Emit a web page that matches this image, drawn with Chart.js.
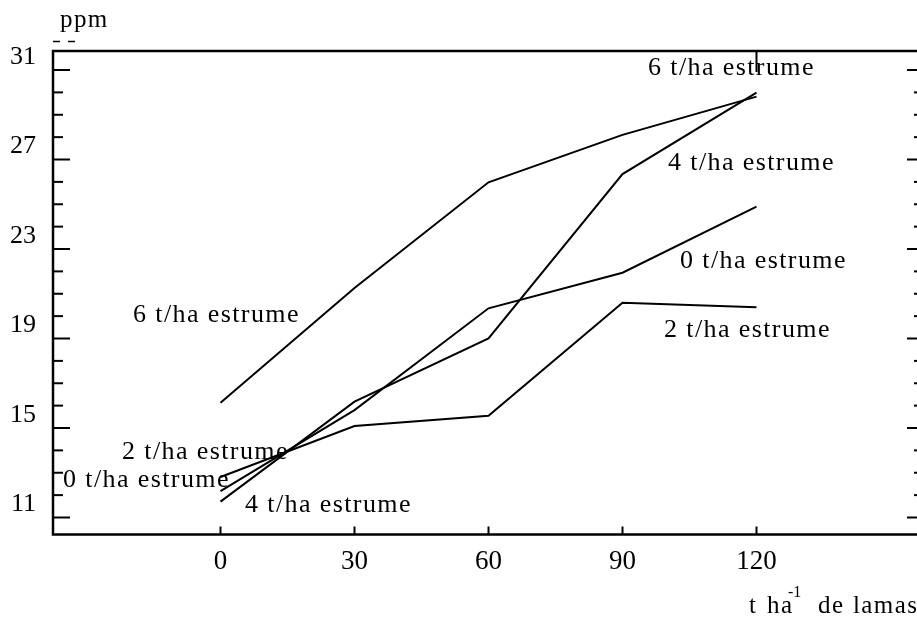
<!DOCTYPE html>
<html>
<head>
<meta charset="utf-8">
<script src="https://cdn.jsdelivr.net/npm/chart.js@4.4.1/dist/chart.umd.min.js"></script>
<style>
html, body { margin: 0; padding: 0; background: #fff; overflow: hidden; }
#wrap { position: absolute; left: 0; top: 0; width: 930px; height: 619px; }
</style>
</head>
<body>
<div id="wrap"><canvas id="chart" width="930" height="619"></canvas></div>
<script>
// sludge doses (t/ha) on the x axis
const doses = [0, 30, 60, 90, 120];

// ppm, one array per manure level
const manure0 = [12.18, 15.80, 20.35, 21.94, 24.89];
const manure2 = [12.81, 15.09, 15.55, 20.60, 20.40];
const manure4 = [11.71, 16.18, 19.00, 26.35, 29.99];
const manure6 = [16.13, 21.26, 25.98, 28.10, 29.81];

// y axis: labelled ticks and the small in-between ticks
const yLabels = [11, 15, 19, 23, 27, 31];
const yMinor = [11, 12, 13, 14, 15, 16, 17, 18, 19, 20, 21, 22, 23, 24, 25, 26, 27, 28, 29, 30, 31];

const serif = "'Liberation Serif', 'Times New Roman', serif";

// text labels placed next to the lines (pixel position of the text start / baseline)
const notes = [
    { text: '6 t/ha estrume', x: 648, y: 75 },
    { text: '4 t/ha estrume', x: 668, y: 170 },
    { text: '0 t/ha estrume', x: 680, y: 268 },
    { text: '2 t/ha estrume', x: 664, y: 337 },
    { text: '6 t/ha estrume', x: 133, y: 322 },
    { text: '2 t/ha estrume', x: 122, y: 459 },
    { text: '0 t/ha estrume', x: 63, y: 487 },
    { text: '4 t/ha estrume', x: 245, y: 512 }
];

function toPoints(values) {
    return doses.map((d, i) => ({ x: d, y: values[i] }));
}

function lineDataset(label, values) {
    return {
        label: label,
        data: toPoints(values),
        borderColor: '#000',
        borderWidth: 2,
        pointRadius: 0,
        tension: 0,
        fill: false
    };
}

// frame, inward tick marks and the free text
const framePlugin = {
    id: 'frame',
    afterDatasetsDraw(chart) {
        const ctx = chart.ctx;
        const a = chart.chartArea;
        const x = chart.scales.x;
        const y = chart.scales.y;

        function seg(x1, y1, x2, y2) {
            ctx.beginPath();
            ctx.moveTo(x1, y1);
            ctx.lineTo(x2, y2);
            ctx.stroke();
        }

        ctx.save();
        ctx.strokeStyle = '#000';
        ctx.lineWidth = 2.5;
        ctx.strokeRect(a.left, a.top, a.right - a.left, a.bottom - a.top);

        ctx.lineWidth = 2;
        yMinor.forEach(v => {
            const py = y.getPixelForValue(v);
            const len = yLabels.includes(v) ? 17 : 10;
            seg(a.left, py, a.left + len, py);
            seg(a.right - len, py, a.right, py);
        });
        doses.forEach(v => {
            const px = x.getPixelForValue(v);
            seg(px, a.bottom, px, a.bottom - 8);
        });
        const p120 = x.getPixelForValue(120);
        seg(p120, a.top, p120, a.top + 21);

        // the two little dashes under "ppm"
        ctx.lineWidth = 1.5;
        seg(53, 41.5, 60, 41.5);
        seg(68, 41.5, 75, 41.5);

        ctx.fillStyle = '#000';
        ctx.textBaseline = 'alphabetic';
        ctx.textAlign = 'left';
        ctx.letterSpacing = '1.4px';
        ctx.font = '26px ' + serif;
        notes.forEach(n => ctx.fillText(n.text, n.x, n.y));

        // axis titles
        ctx.font = '25px ' + serif;
        ctx.fillText('ppm', 60, 27);
        ctx.fillText('t', 749, 613);
        ctx.fillText('ha', 767, 613);
        ctx.fillText('de', 818, 613);
        ctx.fillText('lamas', 853, 613);
        ctx.font = '16px ' + serif;
        ctx.letterSpacing = '0px';
        ctx.fillText('-1', 788, 597);
        ctx.restore();
    }
};

new Chart(document.getElementById('chart'), {
    type: 'line',
    data: {
        datasets: [
            lineDataset('6 t/ha estrume', manure6),
            lineDataset('4 t/ha estrume', manure4),
            lineDataset('0 t/ha estrume', manure0),
            lineDataset('2 t/ha estrume', manure2)
        ]
    },
    options: {
        responsive: false,
        animation: false,
        devicePixelRatio: 1,
        layout: { padding: { top: 51, right: 6, left: 0, bottom: 0 } },
        plugins: {
            legend: { display: false },
            tooltip: { enabled: false }
        },
        scales: {
            x: {
                type: 'linear',
                min: -37.5,
                max: 157.5,
                afterBuildTicks: s => { s.ticks = doses.map(v => ({ value: v })); },
                afterFit: s => { s.height = 84.5; },
                grid: { display: false, drawTicks: false },
                border: { display: false },
                ticks: {
                    color: '#000',
                    font: { family: serif, size: 27 },
                    padding: 11,
                    autoSkip: false,
                    maxRotation: 0
                }
            },
            y: {
                type: 'linear',
                min: 10.24,
                max: 31.85,
                afterBuildTicks: s => { s.ticks = yLabels.map(v => ({ value: v })); },
                afterFit: s => { s.width = 53; },
                grid: { display: false, drawTicks: false },
                border: { display: false },
                ticks: {
                    color: '#000',
                    font: { family: serif, size: 26 },
                    padding: 17,
                    labelOffset: -13,
                    autoSkip: false
                }
            }
        }
    },
    plugins: [framePlugin]
});
</script>
</body>
</html>
